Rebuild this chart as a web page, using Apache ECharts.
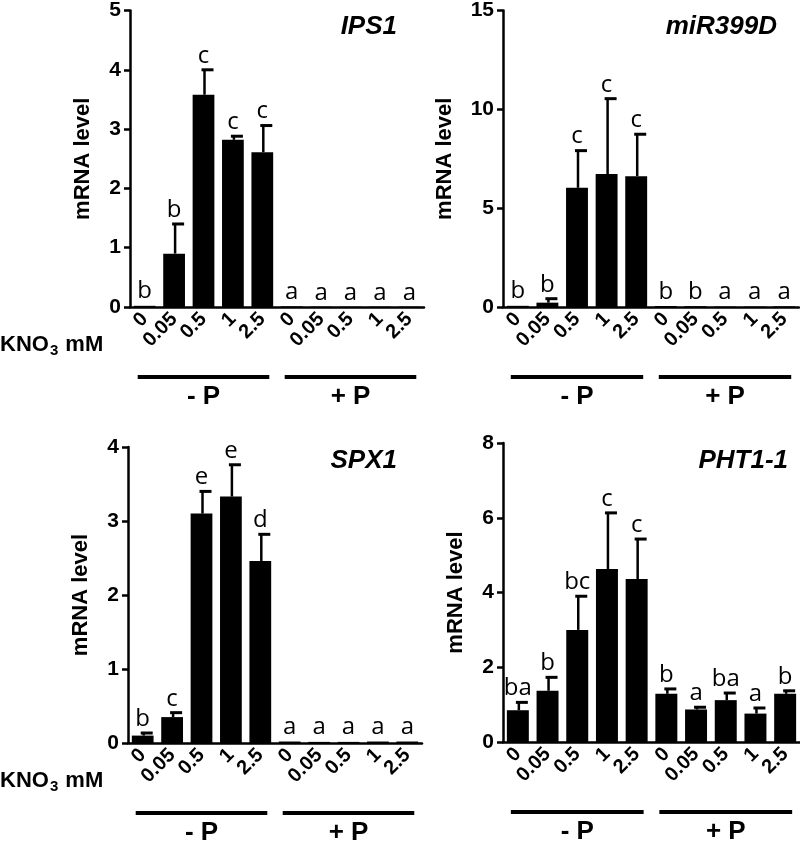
<!DOCTYPE html>
<html><head><meta charset="utf-8">
<script src="https://cdn.jsdelivr.net/npm/echarts@6/dist/echarts.min.js"></script>
<style>html,body{margin:0;padding:0;background:#fff}#c{width:800px;height:842px}</style>
</head><body><div id="c"></div>
<script>
// ---- data ----
const categories = ['0', '0.05', '0.5', '1', '2.5', '0', '0.05', '0.5', '1', '2.5'];
const groupLabels = ['- P', '+ P'];
const genes = ['IPS1', 'miR399D', 'SPX1', 'PHT1-1'];
const yMax = [5, 15, 4, 8];
const yStep = [1, 5, 1, 2];

const ips1Mean = [0.02, 0.90, 3.58, 2.82, 2.61, 0.01, 0.005, 0.005, 0.005, 0.005];
const ips1Err = [0.01, 0.50, 0.42, 0.06, 0.45, 0.005, 0, 0, 0, 0];
const ips1Letters = ['b', 'b', 'c', 'c', 'c', 'a', 'a', 'a', 'a', 'a'];

const mirMean = [0.06, 0.22, 6.03, 6.73, 6.62, 0.05, 0.04, 0.02, 0.02, 0.03];
const mirErr = [0.02, 0.20, 1.88, 3.81, 2.12, 0.01, 0.01, 0.01, 0.01, 0.01];
const mirLetters = ['b', 'b', 'c', 'c', 'c', 'b', 'b', 'a', 'a', 'a'];

const spxMean = [0.10, 0.35, 3.10, 3.33, 2.46, 0.02, 0.015, 0.015, 0.02, 0.02];
const spxErr = [0.035, 0.06, 0.30, 0.43, 0.36, 0.005, 0.005, 0.005, 0.005, 0.005];
const spxLetters = ['b', 'c', 'e', 'e', 'd', 'a', 'a', 'a', 'a', 'a'];

const phtMean = [0.85, 1.37, 3.00, 4.63, 4.36, 1.29, 0.87, 1.12, 0.76, 1.29];
const phtErr = [0.21, 0.36, 0.90, 1.50, 1.07, 0.13, 0.06, 0.19, 0.15, 0.08];
const phtLetters = ['ba', 'b', 'bc', 'c', 'c', 'b', 'a', 'ba', 'a', 'b'];

const means = [ips1Mean, mirMean, spxMean, phtMean];
const errs = [ips1Err, mirErr, spxErr, phtErr];
const letters = [ips1Letters, mirLetters, spxLetters, phtLetters];

// ---- layout ----
const grids = [
  {left: 130, top: 10, width: 294, height: 297},
  {left: 503, top: 10, width: 296, height: 297},
  {left: 128, top: 447, width: 294, height: 296},
  {left: 503, top: 443, width: 297, height: 299}
];
const titlePos = [
  {right: 403, top: 14}, {right: 23, top: 14},
  {right: 403, top: 448}, {right: 12, top: 448}
];
const nameGaps = [36, 47, 36, 36];
const AX = 'Liberation Sans, Arial, sans-serif';

const chart = echarts.init(document.getElementById('c'), null, {renderer: 'canvas'});

function errRender(k) {
  return function (params, api) {
    const i = api.value(0);
    const m = means[k][i], e = errs[k][i];
    const base = api.coord([i, m]);
    const top = api.coord([i, m + e]);
    const cx = base[0];
    const children = [];
    if (base[1] - top[1] >= 1.5) {
      children.push({type: 'line', shape: {x1: cx + 1, y1: base[1], x2: cx + 1, y2: top[1]},
        style: {stroke: '#000', lineWidth: 2.5}});
      children.push({type: 'rect', shape: {x: cx - 2, y: top[1] - 1.5, width: 12, height: 3},
        style: {fill: '#000'}});
    }
    children.push({type: 'text', style: {text: letters[k][i], x: cx, y: Math.min(top[1], base[1]) - 2,
      align: 'center', verticalAlign: 'bottom', fontSize: 24, fontFamily: 'Open Sans', fill: '#000'}});
    return {type: 'group', children: children};
  };
}

const option = {
  animation: false,
  backgroundColor: '#fff',
  title: genes.map((g, k) => Object.assign({
    text: g, padding: 0,
    textStyle: {fontSize: 26, fontWeight: 'bold', fontStyle: 'italic', fontFamily: AX, color: '#000'}
  }, titlePos[k])),
  grid: grids.map(g => Object.assign({containLabel: false}, g)),
  xAxis: grids.map((g, k) => ({
    type: 'category', gridIndex: k, data: categories,
    axisLine: {lineStyle: {color: '#000', width: 2.5}},
    axisTick: {alignWithLabel: true, length: 7, lineStyle: {color: '#000', width: 2.5}},
    axisLabel: {interval: 0, rotate: 45, margin: 9, color: '#000', fontWeight: 'bold',
      fontSize: 20, fontFamily: AX}
  })),
  yAxis: grids.map((g, k) => ({
    type: 'value', gridIndex: k, min: 0, max: yMax[k], interval: yStep[k],
    axisLine: {show: true, lineStyle: {color: '#000', width: 2.5}},
    axisTick: {show: true, length: 6, lineStyle: {color: '#000', width: 2.5}},
    splitLine: {show: false},
    axisLabel: {margin: 9, color: '#000', fontWeight: 'bold', fontSize: 21, fontFamily: AX},
    name: 'mRNA level', nameLocation: 'middle', nameGap: nameGaps[k],
    nameTextStyle: {color: '#000', fontWeight: 'bold', fontSize: 22, fontFamily: AX}
  })),
  series: [].concat(
    means.map((m, k) => ({
      type: 'bar', xAxisIndex: k, yAxisIndex: k, data: m, barWidth: '74%',
      itemStyle: {color: '#000'}, z: 2
    })),
    means.map((m, k) => ({
      type: 'custom', xAxisIndex: k, yAxisIndex: k,
      data: m.map((v, i) => [i, v + errs[k][i]]),
      renderItem: errRender(k), z: 3, clip: false
    }))
  )
};
chart.setOption(option);

// group annotations derived from the axes
const graphics = [];
for (let k = 0; k < 4; k++) {
  const axisY = chart.convertToPixel({yAxisIndex: k}, 0);
  const lineY = axisY + 70;
  for (let gi = 0; gi < 2; gi++) {
    const xa = chart.convertToPixel({xAxisIndex: k}, gi * 5);
    const xb = chart.convertToPixel({xAxisIndex: k}, gi * 5 + 4);
    graphics.push({type: 'rect', shape: {x: xa - 7, y: lineY - 2, width: xb - xa + 14, height: 4},
      style: {fill: '#000'}});
    graphics.push({type: 'text', x: (xa + xb) / 2, y: lineY + 20,
      style: {text: groupLabels[gi], align: 'center', verticalAlign: 'middle',
        font: 'bold 26px ' + AX, fill: '#000'}});
  }
  if (k === 0 || k === 2) {
    graphics.push({type: 'text', x: 0, y: axisY + 38,
      style: {text: '{b|KNO}{s|3}{b| mM}', verticalAlign: 'middle', align: 'left',
        rich: {
          b: {fontSize: 22, fontWeight: 'bold', fontFamily: AX, color: '#000'},
          s: {fontSize: 15, fontWeight: 'bold', fontFamily: AX, color: '#000', padding: [11, 1, 0, 1]}
        }}});
  }
}
chart.setOption({graphic: graphics});
</script></body></html>
